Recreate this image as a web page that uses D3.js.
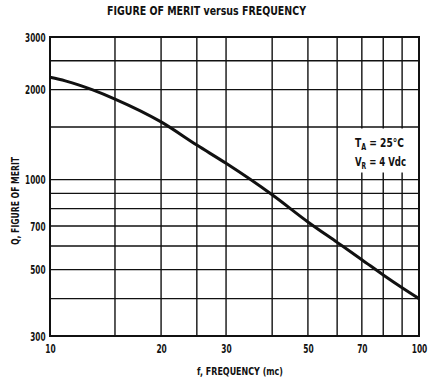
<!DOCTYPE html>
<html>
<head>
<meta charset="utf-8">
<script src="https://cdn.jsdelivr.net/npm/d3@7"></script>
<style>
  html, body { margin: 0; padding: 0; background: #fff; }
  svg text { font-family: "Liberation Sans Narrow", "DejaVu Sans Condensed", "Arial Narrow", sans-serif; font-weight: bold; fill: #111; }
</style>
</head>
<body>
<svg id="chart" width="433" height="384"></svg>
<script>
// ---- data ----
const freq = [10, 11, 12, 13, 15, 20, 25, 30, 40, 50, 60, 70, 80, 90, 100];
const merit = [2200, 2140, 2072, 2000, 1860, 1560, 1305, 1134, 890, 722, 617, 540, 480, 435, 400];
const xGridValues = [15, 20, 25, 30, 40, 50, 60, 70, 80, 90];
const yGridValues = [400, 500, 600, 700, 800, 900, 1000, 1500, 2000, 2500];
const xTickLabels = [10, 20, 30, 50, 70, 100];
const yTickLabels = [300, 500, 700, 1000, 2000, 3000];
const titleText = "FIGURE OF MERIT versus FREQUENCY";
const xTitle = "f, FREQUENCY (mc)";
const yTitle = "Q, FIGURE OF MERIT";

// ---- layout ----
const pL = 50, pR = 419, pT = 37, pB = 336;
const svg = d3.select("#chart");
const x = d3.scaleLog().domain([10, 100]).range([pL, pR]);
const y = d3.scaleLog().domain([300, 3000]).range([pB, pT]);

// gridlines
svg.append("g").selectAll("line").data(xGridValues).join("line")
  .attr("x1", d => x(d)).attr("x2", d => x(d))
  .attr("y1", pT).attr("y2", pB)
  .attr("stroke", "#111").attr("stroke-width", 1.4);
svg.append("g").selectAll("line").data(yGridValues).join("line")
  .attr("x1", pL).attr("x2", pR)
  .attr("y1", d => y(d)).attr("y2", d => y(d))
  .attr("stroke", "#111").attr("stroke-width", 1.4);

// annotation box (white background hiding gridlines)
svg.append("rect").attr("x", 345).attr("y", y(1500) + 1.5)
  .attr("width", pR - 345 - 1).attr("height", 44).attr("fill", "#fff");

// frame
svg.append("rect").attr("x", pL).attr("y", pT)
  .attr("width", pR - pL).attr("height", pB - pT)
  .attr("fill", "none").attr("stroke", "#111").attr("stroke-width", 2);

// curve
const line = d3.line().x((d, i) => x(freq[i])).y(d => y(d)).curve(d3.curveMonotoneX);
svg.append("path").datum(merit).attr("d", line)
  .attr("fill", "none").attr("stroke", "#111").attr("stroke-width", 3);

// axes (labels only)
const fmt = d3.format("d");
const xAxis = d3.axisBottom(x).tickValues(xTickLabels).tickFormat(fmt).tickSize(0).tickPadding(0);
const gx = svg.append("g").attr("transform", `translate(0,${pB})`).call(xAxis);
gx.select(".domain").remove();
gx.attr("font-family", null).attr("font-size", null);
gx.selectAll("text").attr("y", 16.5).attr("dy", null).attr("font-size", 11.5)
  .attr("textLength", d => fmt(d).length * 5.2).attr("lengthAdjust", "spacingAndGlyphs");

const yAxis = d3.axisLeft(y).tickValues(yTickLabels).tickFormat(fmt).tickSize(0).tickPadding(0);
const gy = svg.append("g").attr("transform", `translate(45.5,0)`).call(yAxis);
gy.select(".domain").remove();
gy.attr("font-family", null).attr("font-size", null);
gy.selectAll("text").attr("dy", "0.36em").attr("font-size", 11.5)
  .attr("textLength", d => fmt(d).length * 5.1).attr("lengthAdjust", "spacingAndGlyphs");

// titles
svg.append("text").attr("x", 206.5).attr("y", 15).attr("text-anchor", "middle")
  .attr("font-size", 11.5).attr("textLength", 199).attr("lengthAdjust", "spacingAndGlyphs")
  .text(titleText);
svg.append("text").attr("x", 240).attr("y", 375).attr("text-anchor", "middle")
  .attr("font-size", 10.5).attr("textLength", 86).attr("lengthAdjust", "spacingAndGlyphs")
  .text(xTitle);
svg.append("text").attr("transform", "translate(18.5,201) rotate(-90)").attr("text-anchor", "middle")
  .attr("font-size", 10.5).attr("textLength", 88).attr("lengthAdjust", "spacingAndGlyphs")
  .text(yTitle);

// annotation
const ann1 = svg.append("text").attr("x", 355).attr("y", 147).attr("font-size", 11.5)
  .attr("textLength", 49).attr("lengthAdjust", "spacingAndGlyphs");
ann1.append("tspan").text("T");
ann1.append("tspan").attr("font-size", 8).attr("dy", 2.5).text("A");
ann1.append("tspan").attr("dy", -2.5).text(" = 25°C");
const ann2 = svg.append("text").attr("x", 355).attr("y", 166).attr("font-size", 11.5)
  .attr("textLength", 51).attr("lengthAdjust", "spacingAndGlyphs");
ann2.append("tspan").text("V");
ann2.append("tspan").attr("font-size", 8).attr("dy", 2.5).text("R");
ann2.append("tspan").attr("dy", -2.5).text(" = 4 Vdc");
</script>
</body>
</html>
